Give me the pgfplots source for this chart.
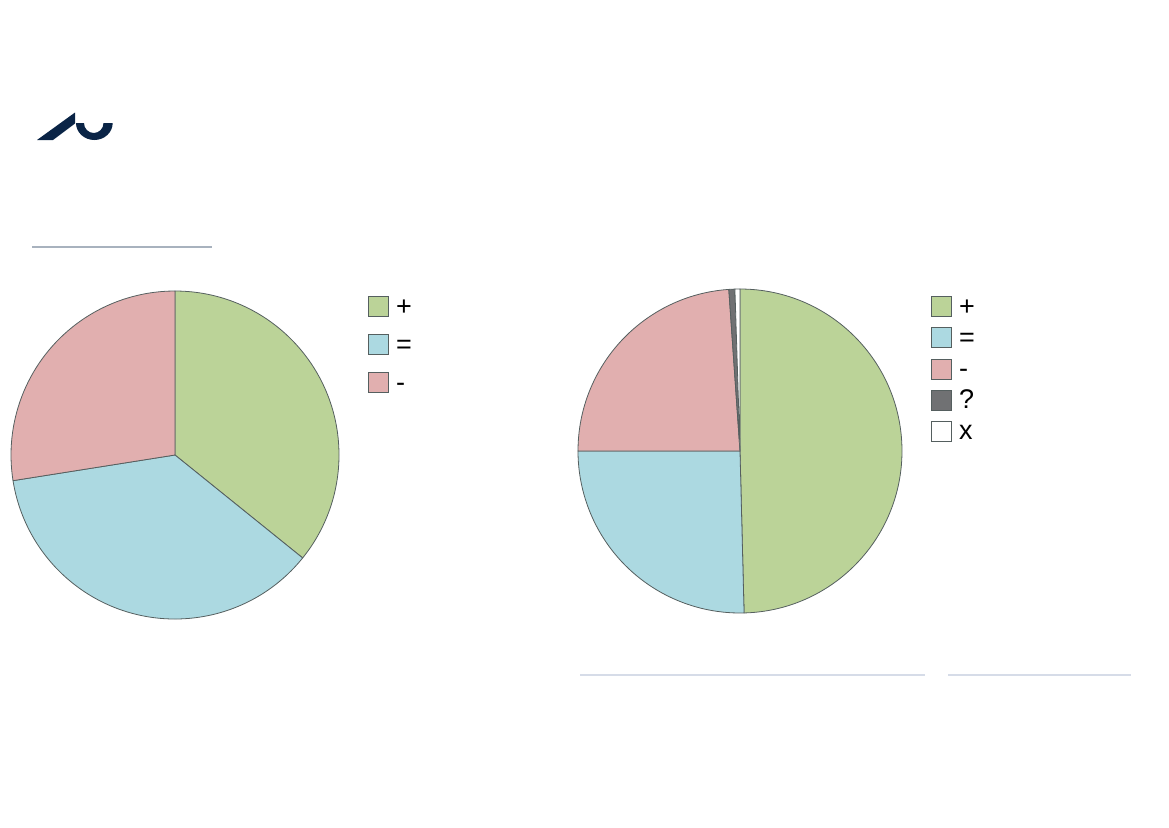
\documentclass[border=0pt]{standalone}
\usepackage{pgfplots}
\pgfplotsset{compat=1.18}
\usepackage{pgfplotstable}
\usepackage{fontspec}
\setmainfont{Liberation Sans}
\definecolor{pgreen}{RGB}{187,211,152}
\definecolor{pblue}{RGB}{172,217,225}
\definecolor{pred}{RGB}{225,175,175}
\definecolor{pgray}{RGB}{112,113,115}
\definecolor{pwhite}{RGB}{255,255,255}
\definecolor{pieline}{RGB}{85,95,95}
\definecolor{navy}{RGB}{10,36,70}
\definecolor{rulegray}{RGB}{168,178,190}
\definecolor{rulelight}{RGB}{214,220,232}

% left pie: + = -
\pgfplotstableread{
value color
35.8 pgreen
36.7 pblue
27.5 pred
}\leftdata
% right pie: + = - ? x
\pgfplotstableread{
value color
49.6 pgreen
25.4 pblue
23.9 pred
0.6 pgray
0.5 pwhite
}\rightdata

\newcommand\drawpie[2]{%
  \pgfplotstablegetrowsof{#1}%
  \pgfmathtruncatemacro\pieN{\pgfplotsretval-1}%
  \def\piecum{0}%
  \pgfplotsforeachungrouped \pieI in {0,...,\pieN}{%
    \pgfplotstablegetelem{\pieI}{value}\of{#1}\let\pieval\pgfplotsretval
    \pgfplotstablegetelem{\pieI}{color}\of{#1}\let\piecol\pgfplotsretval
    \pgfmathsetmacro\pieA{90-3.6*\piecum}%
    \pgfmathsetmacro\pieB{90-3.6*(\piecum+\pieval)}%
    \edef\pietemp{\noexpand\filldraw[fill=\piecol, draw=pieline, line width=0.4pt, line join=round]
      (axis cs:0,0) -- (axis cs:{cos(\pieA)},{sin(\pieA)})
      arc[start angle=\pieA, end angle=\pieB, radius=#2] -- cycle;}%
    \pietemp
    \pgfmathsetmacro\piecum{\piecum+\pieval}%
  }%
}

\pgfplotsset{
  pieaxis/.style={
    anchor=center, scale only axis, hide axis, clip=false,
    xmin=-1, xmax=1, ymin=-1, ymax=1,
    legend image code/.code={\draw[##1] (0pt,-5pt) rectangle (10pt,5pt); \path (13.7pt,0pt);},
    legend cell align=left,
  },
}

\begin{document}
\begin{tikzpicture}
\begin{scope}[x=0.5pt, y=-0.5pt]
\path[use as bounding box] (0,0) rectangle (1169,827);
% logo
\fill[navy] (37,140) -- (53,140) -- (75,123.5) -- (75,112.5) -- cycle;
\fill[navy] (76,123) arc[start angle=180, end angle=0, x radius=18.35, y radius=17]
  -- (103.5,123) arc[start angle=0, end angle=180, x radius=9.75, y radius=10] -- cycle;
% decorative rules
\draw[rulegray, line width=0.7pt] (32,247) -- (212,247);
\draw[rulelight, line width=1pt] (580,675) -- (925,675);
\draw[rulelight, line width=1pt] (948,675) -- (1131,675);
\end{scope}

% left pie
\begin{axis}[pieaxis, at={(87.5pt,-227.5pt)}, width=164pt, height=164pt,
  legend style={at={(axis description cs:1.0884,1.0122)}, anchor=north west,
    draw=none, fill=none, inner sep=0pt, outer sep=0pt,
    nodes={inner sep=0pt, text height=14pt, text depth=5pt, font=\fontsize{13.5}{16}\selectfont}}]
  \drawpie{\leftdata}{82pt}
  \addlegendimage{fill=pgreen, draw=pieline, line width=0.4pt}
  \addlegendentry{+}
  \addlegendimage{fill=pblue, draw=pieline, line width=0.4pt}
  \addlegendentry{=}
  \addlegendimage{fill=pred, draw=pieline, line width=0.4pt}
  \addlegendentry{-}
\end{axis}

% right pie
\begin{axis}[pieaxis, at={(370pt,-225.5pt)}, width=162pt, height=162pt,
  legend style={at={(axis description cs:1.0895,0.9938)}, anchor=north west,
    draw=none, fill=none, inner sep=0pt, outer sep=0pt,
    nodes={inner sep=0pt, text height=12pt, text depth=3.6pt, font=\fontsize{13.5}{16}\selectfont}}]
  \drawpie{\rightdata}{81pt}
  \addlegendimage{fill=pgreen, draw=pieline, line width=0.4pt}
  \addlegendentry{+}
  \addlegendimage{fill=pblue, draw=pieline, line width=0.4pt}
  \addlegendentry{=}
  \addlegendimage{fill=pred, draw=pieline, line width=0.4pt}
  \addlegendentry{-}
  \addlegendimage{fill=pgray, draw=pieline, line width=0.4pt}
  \addlegendentry{?}
  \addlegendimage{fill=pwhite, draw=pieline, line width=0.4pt}
  \addlegendentry{x}
\end{axis}
\end{tikzpicture}
\end{document}
